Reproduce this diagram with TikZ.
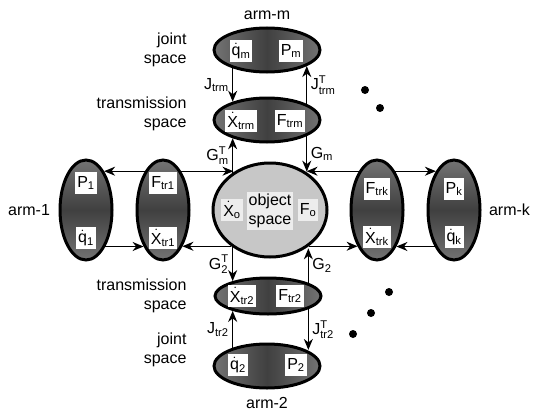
\documentclass[tikz,border=0pt]{standalone}
\usepackage{fontspec}
\setmainfont{Liberation Sans}
\setsansfont{Liberation Sans}
\usepackage{tikz}
\usetikzlibrary{arrows.meta,positioning,shapes.geometric}
\usepackage{xcolor}
\definecolor{cHatch}{gray}{0.45}
\definecolor{cDense}{gray}{0.25}
\definecolor{cObj}{gray}{0.78}
\definecolor{cObjBox}{gray}{0.93}
\newcommand{\rsub}[2]{$\mathrm{#1}_{\mathrm{#2}}$}
\newcommand{\rsubT}[2]{$\mathrm{#1}^{\mathrm{T}}_{\mathrm{#2}}$}
\newcommand{\rdot}[2]{$\dot{\mathrm{#1}}_{\mathrm{#2}}$}

\begin{document}
\begin{tikzpicture}[x=1pt,y=-1pt,
  font=\fontsize{16}{19}\selectfont,
  armell/.style={ellipse,draw,line width=3pt,inner sep=0pt},
  hband/.style={left color=cHatch,right color=cHatch,middle color=cDense},
  vband/.style={top color=cHatch,bottom color=cHatch,middle color=cDense},
  lblbox/.style={fill=white,inner sep=2pt,minimum height=22pt},
  flow/.style={-{Stealth[length=11pt,width=9pt,inset=3.5pt]},line width=1.3pt},
  etcdot/.style={circle,fill=black,inner sep=0pt,minimum size=8pt}]
  \useasboundingbox (0,0) rectangle (534,412);
  % Vertical chain: arm-m, object, arm-2
  \node[armell,hband,minimum width=106pt,minimum height=44pt] (jm) at (267,50) {};
  \node[armell,hband,minimum width=106pt,minimum height=44pt] (trm) at (267,120) {};
  \node[armell,fill=cObj,minimum width=114pt,minimum height=94pt] (obj) at (270,210) {};
  \node[armell,hband,minimum width=106pt,minimum height=36pt] (tr2) at (268,296) {};
  \node[armell,hband,minimum width=106pt,minimum height=44pt] (j2) at (267,366) {};
  % Side chains: arm-1, arm-k
  \node[armell,vband,minimum width=52pt,minimum height=100pt] (p1) at (86,210) {};
  \node[armell,vband,minimum width=52pt,minimum height=100pt] (tr1) at (163,210) {};
  \node[armell,vband,minimum width=52pt,minimum height=100pt] (trk) at (377,210) {};
  \node[armell,vband,minimum width=52pt,minimum height=100pt] (pk) at (454,210) {};
  % Variables
  \node[lblbox] (qm) at (241,51) {\rdot{q}{m}};
  \node[lblbox] (pm) at (291,51) {\rsub{P}{m}};
  \node[lblbox] (xtrm) at (241,121) {\rdot{X}{trm}};
  \node[lblbox] (ftrm) at (290,121) {\rsub{F}{trm}};
  \node[lblbox,fill=cObjBox] (xo) at (232,210) {\rdot{X}{o}};
  \node[lblbox,fill=cObjBox,align=center] (ospace) at (270,211) {object\\space};
  \node[lblbox,fill=cObjBox] (fo) at (308,210) {\rsub{F}{o}};
  \node[lblbox] (xtr2) at (242,296) {\rdot{X}{tr2}};
  \node[lblbox] (ftr2) at (290,296) {\rsub{F}{tr2}};
  \node[lblbox] (q2) at (238,365) {\rdot{q}{2}};
  \node[lblbox] (p2) at (296,365) {\rsub{P}{2}};
  \node[lblbox] (pp1) at (86,183) {\rsub{P}{1}};
  \node[lblbox] (q1) at (86,238) {\rdot{q}{1}};
  \node[lblbox] (ftr1) at (163,183) {\rsub{F}{tr1}};
  \node[lblbox] (xtr1) at (163,238) {\rdot{X}{tr1}};
  \node[lblbox] (ftrk) at (377,189) {\rsub{F}{trk}};
  \node[lblbox] (xtrk) at (377,237) {\rdot{X}{trk}};
  \node[lblbox] (ppk) at (454,189) {\rsub{P}{k}};
  \node[lblbox] (qk) at (454,237) {\rdot{q}{k}};
  % Arm names
  \node[above=3pt of jm] (armm) {arm-m};
  \node[below=4pt of j2] (arm2) {arm-2};
  \node[left=5pt of p1] (arm1) {arm-1};
  \node[right=4pt of pk] (armk) {arm-k};
  % Space names
  \node[align=right,anchor=east] (jsm) at (190,50) {joint\\space};
  \node[align=right,anchor=east] (tsm) at (190,114) {transmission\\space};
  \node[align=right,anchor=east] (ts2) at (190,296) {transmission\\space};
  \node[align=right,anchor=east] (js2) at (190,350) {joint\\space};
  % Vertical maps
  \draw[flow] (jm.208) -- (jm.208 |- trm.152) node[midway,left] {\rsub{J}{trm}};
  \draw[flow] (trm.22) -- (trm.22 |- jm.338) node[midway,right] {\rsubT{J}{trm}};
  \draw[flow] (obj.135) -- (obj.135 |- trm.208) node[midway,left] {\rsubT{G}{m}};
  \draw[flow] (trm.338) -- (trm.338 |- obj.47) node[midway,right] {\rsub{G}{m}};
  \draw[flow] (obj.225) -- (obj.225 |- tr2.157) node[midway,left] {\rsubT{G}{2}};
  \draw[flow] (tr2.18) -- (tr2.18 |- obj.313) node[midway,right] {\rsub{G}{2}};
  \draw[flow] (j2.152) -- (j2.152 |- tr2.203) node[midway,left] {\rsub{J}{tr2}};
  \draw[flow] (tr2.342) -- (tr2.342 |- j2.22) node[midway,right] {\rsubT{J}{tr2}};
  % Horizontal maps
  \draw[flow] (tr1.115) -- (tr1.115 -| p1.65);
  \draw[flow] (tr1.65) -- (tr1.65 -| obj.134);
  \draw[flow] (p1.298) -- (p1.298 -| tr1.242);
  \draw[flow] (obj.223) -- (obj.223 -| tr1.298);
  \draw[flow] (trk.115) -- (trk.115 -| obj.46);
  \draw[flow] (trk.65) -- (trk.65 -| pk.115);
  \draw[flow] (obj.317) -- (obj.317 -| trk.242);
  \draw[flow] (pk.242) -- (pk.242 -| trk.298);
  % More arms
  \node[etcdot] (d1) at (365,90) {};
  \node[etcdot] (d2) at (380,108) {};
  \node[etcdot] (d3) at (389,292) {};
  \node[etcdot] (d4) at (371,313) {};
  \node[etcdot] (d5) at (353,334) {};
\end{tikzpicture}
\end{document}
